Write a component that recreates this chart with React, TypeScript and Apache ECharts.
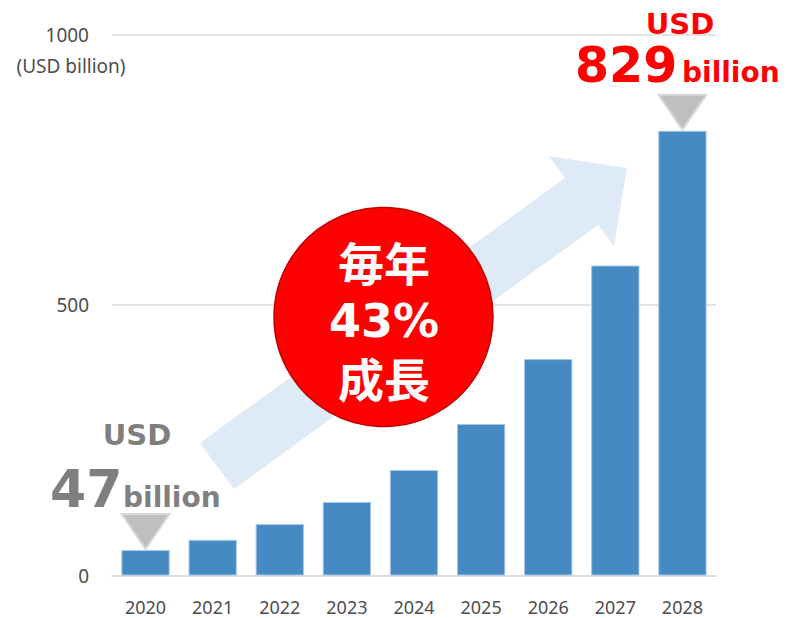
import React, { useEffect, useRef } from "react";
import * as echarts from "echarts";

const years = ["2020", "2021", "2022", "2023", "2024", "2025", "2026", "2027", "2028"];
const marketValues = [47, 66, 95, 136, 195, 280, 400, 573, 822];
const yTicks = [0, 500, 1000];
const unitLabel = "(USD billion)";
const startLabel = { currency: "USD", value: "47", unit: "billion" };
const endLabel = { currency: "USD", value: "829", unit: "billion" };
const growthLines = ["毎年", "43%", "成長"];

const LATIN = "'DejaVu Sans', Verdana, sans-serif";
const CJK = "'Noto Sans CJK JP', 'Noto Sans', sans-serif";
const AXIS_FONT = "'Noto Sans', 'Open Sans', sans-serif";

export default function App() {
  const ref = useRef<HTMLDivElement | null>(null);

  useEffect(() => {
    document.body.style.margin = "0";
    if (!ref.current) return;
    const chart = echarts.init(ref.current, null, { renderer: "svg" });
    chart.setOption({
      animation: false,
      backgroundColor: "#ffffff",
      grid: { left: 112, right: 71, top: 34.5, bottom: 42.5, containLabel: false },
      xAxis: {
        type: "category",
        data: years,
        axisLine: { lineStyle: { color: "#d9d9d9", width: 1.5 } },
        axisTick: { show: false },
        axisLabel: { color: "#4d4d4d", fontSize: 18, lineHeight: 18, fontFamily: AXIS_FONT, margin: 22 },
      },
      yAxis: {
        type: "value",
        min: yTicks[0],
        max: yTicks[yTicks.length - 1],
        interval: 500,
        axisLine: { show: false },
        axisTick: { show: false },
        axisLabel: {
          color: "#4d4d4d",
          fontSize: 19,
          fontFamily: AXIS_FONT,
          margin: 23,
          formatter: (v: number) => String(v),
        },
        splitLine: { lineStyle: { color: "#d9d9d9", width: 1.5 } },
      },
      series: [
        {
          type: "bar",
          data: marketValues,
          barCategoryGap: "28%",
          z: 3,
          itemStyle: { color: "#458ac3", borderColor: "#a7c8e8", borderWidth: 1 },
        },
      ],
    });

    const first = chart.convertToPixel({ seriesIndex: 0 }, [0, marketValues[0]]) as number[];
    const last = chart.convertToPixel({ seriesIndex: 0 }, [years.length - 1, marketValues[marketValues.length - 1]]) as number[];

    const tri = (p: number[]) => ({
      type: "polygon",
      z: 10,
      shape: { points: [[p[0] - 24, p[1] - 36], [p[0] + 24, p[1] - 36], [p[0], p[1] - 1]] },
      style: { fill: "#bfbfbf", stroke: "#d9d9d9", lineWidth: 2 },
    });

    const txt = (x: number, y: number, text: string, fill: string, font: string, align: string, lineHeight?: number, z = 10) => ({
      type: "text",
      z,
      x,
      y,
      style: { text, fill, font, align, verticalAlign: "middle", lineHeight },
    });

    chart.setOption({
      graphic: [
        {
          type: "polygon",
          z: 1,
          shape: {
            points: [
              [200, 443], [565, 178], [549, 156], [627, 168], [614, 246], [598, 225], [234, 489],
            ],
          },
          style: { fill: "#deeaf6" },
        },
        txt(71, 66, unitLabel, "#4d4d4d", `19px ${AXIS_FONT}`, "center"),
        tri(first),
        tri(last),
        txt(137, 435, startLabel.currency, "#7f7f7f", `bold 29px ${LATIN}`, "center", 26),
        txt(50, 489, startLabel.value, "#7f7f7f", `bold 52px ${LATIN}`, "left", 40),
        txt(123, 497, startLabel.unit, "#7f7f7f", `bold 28px ${LATIN}`, "left", 26),
        txt(680, 24, endLabel.currency, "#ff0000", `bold 29px ${LATIN}`, "center", 26),
        txt(575, 65, endLabel.value, "#ff0000", `bold 49px ${LATIN}`, "left", 40),
        txt(682, 72, endLabel.unit, "#ff0000", `bold 28px ${LATIN}`, "left", 26),
        {
          type: "circle",
          z: 20,
          shape: { cx: 383.5, cy: 317, r: 109.5 },
          style: { fill: "#ff0000", stroke: "#c00000", lineWidth: 1.5 },
        },
        txt(384, 261, growthLines[0], "#ffffff", `bold 46px ${CJK}`, "center", 50, 21),
        txt(384, 321, growthLines[1], "#ffffff", `bold 46px ${LATIN}`, "center", 50, 21),
        txt(384, 377, growthLines[2], "#ffffff", `bold 46px ${CJK}`, "center", 50, 21),
      ],
    });

    return () => chart.dispose();
  }, []);

  return <div ref={ref} style={{ width: 787, height: 618 }} />;
}
